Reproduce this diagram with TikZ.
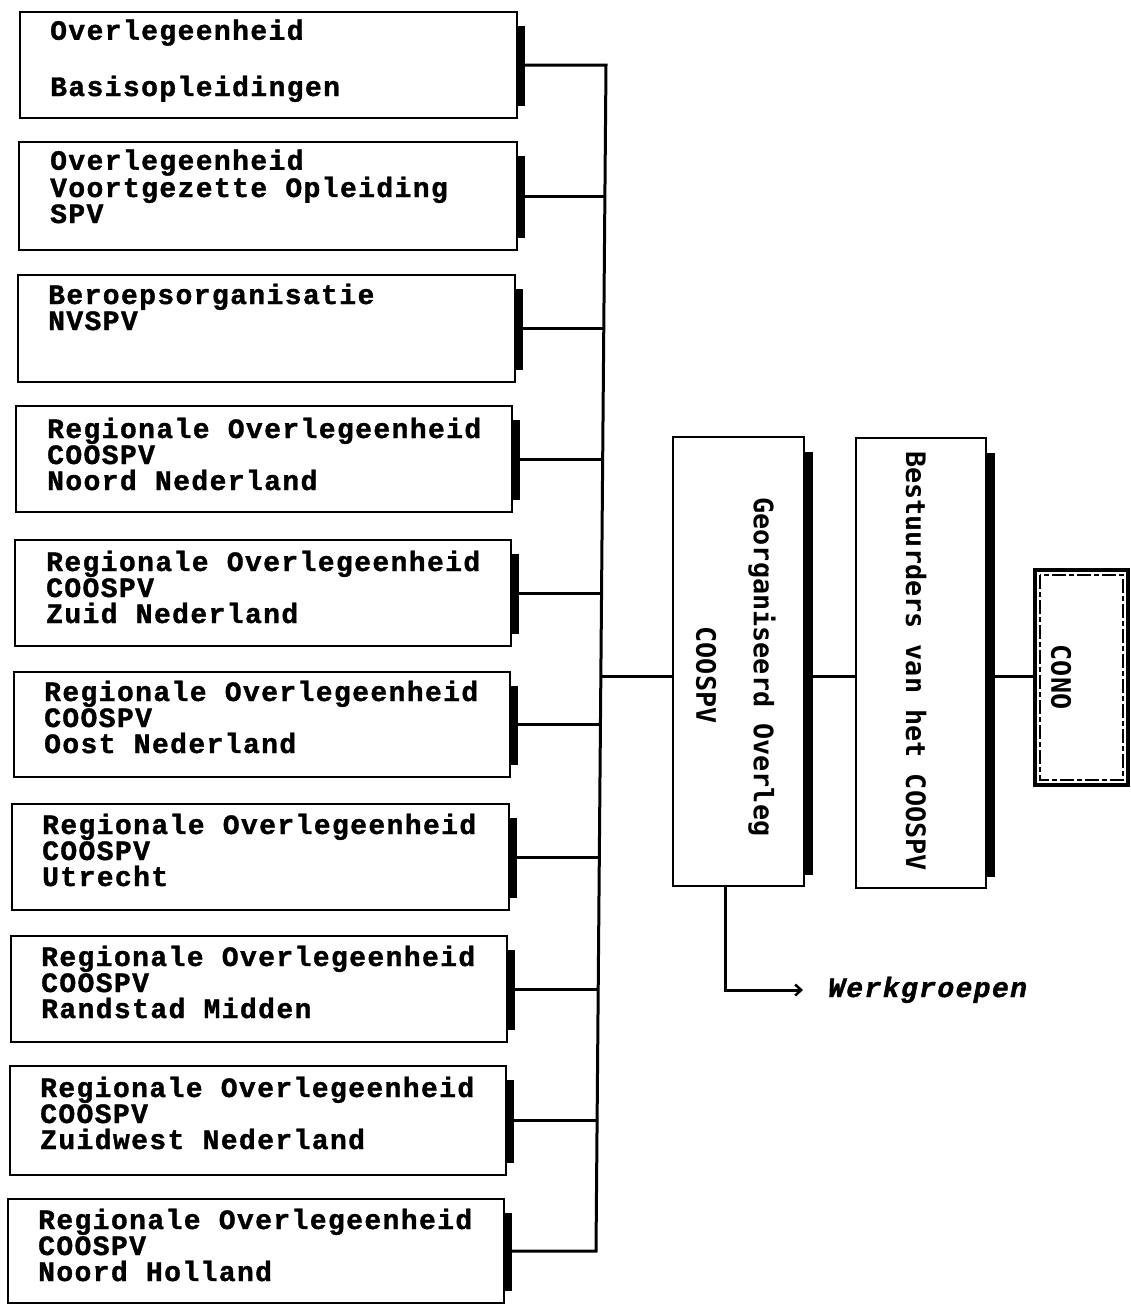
\documentclass[tikz,border=0pt]{standalone}
\usepackage{fontspec}
\newfontfamily\boxfont{Liberation Mono}[LetterSpace=5, BoldFeatures={FakeBold=1.3}, BoldItalicFeatures={FakeBold=1.5}]
\newfontfamily\vfont{DejaVu Sans Mono}
\usetikzlibrary{arrows.meta,calc}
\newcommand\orgbox[5]{%
  \node[box, minimum width={#4-#2}, minimum height={#5-#3}] (#1) at (#2,#3) {};
  \fill ($(#1.north east)+(-1,14)$) rectangle ($(#1.south east)+(8,-12)$);}
\begin{document}
\begin{tikzpicture}[x=1pt,y=-1pt,
  box/.style={draw, line width=2.4pt, fill=white, inner sep=0pt, outer sep=0pt, anchor=north west},
  txt/.style={anchor=base west, inner sep=0pt, align=left,
     font=\boxfont\bfseries\fontsize{28}{26}\selectfont},
  vtxt/.style={rotate=-90, inner sep=0pt, font=\vfont\bfseries\fontsize{26.8}{30}\selectfont},
  conn/.style={line width=3pt, line join=miter}]
\useasboundingbox[fill=white] (0,0) rectangle (1131,1304);

\orgbox{b1}{20}{12}{517}{118}
\orgbox{b2}{19}{142}{517}{250}
\orgbox{b3}{18}{275}{515}{382}
\orgbox{b4}{16}{406}{512}{512}
\orgbox{b5}{15}{540}{511}{646}
\orgbox{b6}{14}{672}{510}{777}
\orgbox{b7}{12}{804}{509}{910}
\orgbox{b8}{11}{936}{507}{1042}
\orgbox{b9}{10}{1066}{506}{1175}
\orgbox{b10}{8}{1199}{504}{1303}

% anchors are on the baseline of the last line
\node[txt] (t1) at (50,96) {Overlegeenheid\\[29pt]Basisopleidingen};
\node[txt] (t2) at (50,223) {Overlegeenheid\\Voortgezette Opleiding\\SPV};
\node[txt] (t3) at (48,330) {Beroepsorganisatie\\NVSPV};
\node[txt] (t4) at (47,490) {Regionale Overlegeenheid\\COOSPV\\Noord Nederland};
\node[txt] (t5) at (46,623) {Regionale Overlegeenheid\\COOSPV\\Zuid Nederland};
\node[txt] (t6) at (44,753) {Regionale Overlegeenheid\\COOSPV\\Oost Nederland};
\node[txt] (t7) at (42,886) {Regionale Overlegeenheid\\COOSPV\\Utrecht};
\node[txt] (t8) at (41,1018) {Regionale Overlegeenheid\\COOSPV\\Randstad Midden};
\node[txt] (t9) at (40,1149) {Regionale Overlegeenheid\\COOSPV\\Zuidwest Nederland};
\node[txt] (t10) at (38,1281) {Regionale Overlegeenheid\\COOSPV\\Noord Holland};

% bus junctions
\coordinate (j1) at (606,65);
\coordinate (j2) at (604.9,196);
\coordinate (j3) at (603.8,328.5);
\coordinate (j4) at (602.7,459);
\coordinate (j5) at (601.6,593);
\coordinate (jg) at (600.9,676);
\coordinate (j6) at (600.5,724.5);
\coordinate (j7) at (599.3,857);
\coordinate (j8) at (598.2,989);
\coordinate (j9) at (597.1,1120.5);
\coordinate (j10) at (596,1251);

% central boxes
\node[box, minimum width=131pt, minimum height=449pt] (GO) at (673,437) {};
\fill ($(GO.north east)+(-1,15)$) rectangle ($(GO.south east)+(9,-11)$);
\node[box, minimum width=130pt, minimum height=450pt] (BE) at (856,438) {};
\fill ($(BE.north east)+(-1,15)$) rectangle ($(BE.south east)+(9,-11)$);
\node[box, line width=3.5pt, minimum width=93pt, minimum height=215pt] (CO) at (1035,570) {};
\draw[line width=1.8pt, dash pattern=on 14pt off 3pt on 5pt off 3pt]
  ($(CO.north west)+(5,5)$) rectangle ($(CO.south east)+(-5,-5)$);

\node[vtxt] (gotxt) at (762,667) {Georganiseerd Overleg};
\node[vtxt] (cotxt) at (706,675) {COOSPV};
\node[vtxt] (betxt) at (916,661) {Bestuurders van het COOSPV};
\node[vtxt] (conotxt) at (1061,677) {CONO};

% connectors
\draw[conn] (b1.east) -- (j1) -- (j10) -- (b10.east);
\foreach \i in {2,...,9} {\draw[conn] (b\i.east) -- (j\i);}
\draw[conn] (jg) -- (jg -| GO.west);
\draw[conn] (jg -| GO.east) -- (jg -| BE.west);
\draw[conn] (jg -| BE.east) -- (jg -| CO.west);

\coordinate (wk) at (725,990);
\coordinate (wkend) at (803,990);
\draw[conn, -{Straight Barb[length=6pt,width=11pt,line width=2.5pt]}] (GO.south -| wk) -- (wk) -- (wkend);
\node[anchor=base west, inner sep=0pt, font=\boxfont\bfseries\itshape\fontsize{28}{26}\selectfont] (wtxt) at (828,997) {Werkgroepen};
\end{tikzpicture}
\end{document}
